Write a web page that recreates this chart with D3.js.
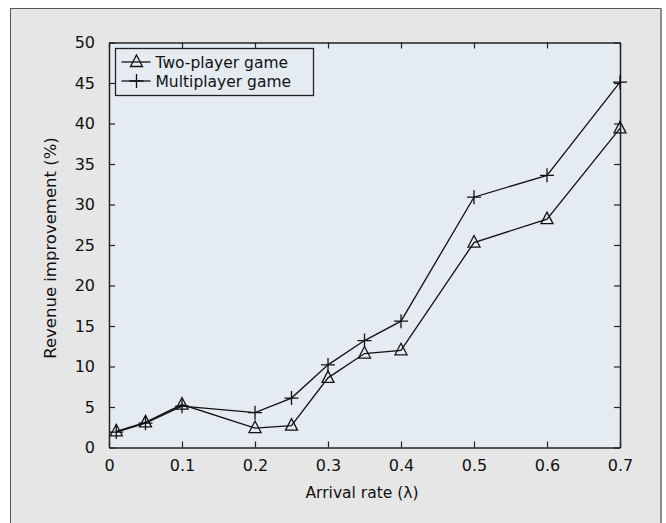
<!DOCTYPE html>
<html>
<head>
<meta charset="utf-8">
<script src="https://cdn.jsdelivr.net/npm/d3@7"></script>
<style>
  body { margin: 0; background: #fff; }
  svg { display: block; font-family: "DejaVu Sans", sans-serif; }
</style>
</head>
<body>
<svg id="drawing_region"></svg>
<script>
// data
const arrivalRates = [0.01, 0.05, 0.1, 0.2, 0.25, 0.3, 0.35, 0.4, 0.5, 0.6, 0.7];
const twoPlayer = [2.0, 3.1, 5.3, 2.4, 2.7, 8.6, 11.6, 12.0, 25.3, 28.2, 39.4];
const multiPlayer = [1.9, 3.0, 5.1, 4.3, 6.1, 10.2, 13.2, 15.6, 30.9, 33.6, 45.1];
const xTicks = [0, 0.1, 0.2, 0.3, 0.4, 0.5, 0.6, 0.7];
const yTicks = [0, 5, 10, 15, 20, 25, 30, 35, 40, 45, 50];
const seriesNames = ["Two-player game", "Multiplayer game"];

const config = {
    width: 666,
    height: 523,
    margin: {top: 42.5, right: 46, bottom: 75.5, left: 109}
};

const svg = d3.select('#drawing_region')
    .attr('width', config.width)
    .attr('height', config.height);

// outer panel
svg.append('rect')
    .attr('x', 10.5).attr('y', 8.5)
    .attr('width', 650).attr('height', 530)
    .attr('fill', '#e6e6e6')
    .attr('stroke', '#555')
    .attr('stroke-width', 1);
svg.append('line')
    .attr('x1', 661).attr('x2', 661)
    .attr('y1', 8).attr('y2', 523)
    .attr('stroke', '#8c8c8c').attr('stroke-width', 2);

const inner_width = config.width - config.margin.left - config.margin.right;
const inner_height = config.height - config.margin.top - config.margin.bottom;

const chart = svg.append('g')
    .attr('transform', `translate(${config.margin.left}, ${config.margin.top})`);

const xscale = d3.scaleLinear().domain([0, 0.7]).range([0, inner_width]);
const yscale = d3.scaleLinear().domain([0, 50]).range([inner_height, 0]);

chart.append('rect')
    .attr('width', inner_width).attr('height', inner_height)
    .attr('fill', '#e4ecf2');

// axes, ticks pointing inward
const fmt = d => d === 0 ? '0' : d3.format('.1f')(d);
const xaxis_group = chart.append('g')
    .attr('transform', `translate(0, ${inner_height})`)
    .call(d3.axisBottom(xscale).tickValues(xTicks).tickFormat(fmt).tickSize(-6).tickPadding(12).tickSizeOuter(0));
const xaxis_top = chart.append('g')
    .call(d3.axisTop(xscale).tickValues(xTicks).tickFormat('').tickSize(-6).tickSizeOuter(0));
const yaxis_group = chart.append('g')
    .call(d3.axisLeft(yscale).tickValues(yTicks).tickSize(-6).tickPadding(14).tickSizeOuter(0));
const yaxis_right = chart.append('g')
    .attr('transform', `translate(${inner_width}, 0)`)
    .call(d3.axisRight(yscale).tickValues(yTicks).tickFormat('').tickSize(-6).tickSizeOuter(0));

[xaxis_group, xaxis_top, yaxis_group, yaxis_right].forEach(g => {
    g.selectAll('path').attr('stroke', '#222').attr('stroke-width', 1.5);
    g.selectAll('line').attr('stroke', '#222').attr('stroke-width', 1.2);
    g.selectAll('text').attr('fill', '#111').style('font-size', '16px')
        .style('font-family', '"DejaVu Sans", sans-serif');
});

// lines
const line = d3.line().x(d => xscale(d.x)).y(d => yscale(d.y));
const series = [twoPlayer, multiPlayer].map(vals =>
    vals.map((v, i) => ({x: arrivalRates[i], y: v})));

series.forEach(pts => {
    chart.append('path')
        .datum(pts)
        .attr('fill', 'none')
        .attr('stroke', '#111')
        .attr('stroke-width', 1.3)
        .attr('d', line);
});

const triPath = 'M0,-7L6,4.5L-6,4.5Z';
const plusPath = 'M-7,0H7M0,-7V7';

function drawMarker(g, kind) {
    g.append('path').attr('d', kind === 0 ? triPath : plusPath)
        .attr('fill', 'none').attr('stroke', '#111').attr('stroke-width', 1.3);
}

series.forEach((pts, k) => {
    chart.selectAll(null).data(pts).join('g')
        .attr('transform', d => `translate(${xscale(d.x)}, ${yscale(d.y)})`)
        .each(function() { drawMarker(d3.select(this), k); });
});

// legend
const legend = svg.append('g').attr('transform', 'translate(115.5, 48.5)');
legend.append('rect')
    .attr('width', 198).attr('height', 47)
    .attr('fill', '#e4ecf2').attr('stroke', '#222').attr('stroke-width', 1.3);
seriesNames.forEach((name, i) => {
    const row = legend.append('g').attr('transform', `translate(0, ${13.5 + i * 19})`);
    row.append('line').attr('x1', 6).attr('x2', 35)
        .attr('stroke', '#111').attr('stroke-width', 1.3);
    const m = row.append('g').attr('transform', 'translate(21, 0)');
    drawMarker(m, i);
    row.append('text').attr('x', 40).attr('y', 0).attr('dy', '0.36em')
        .style('font-size', '15.5px').attr('fill', '#111').text(name);
});

// axis titles
svg.append('text')
    .attr('x', 362).attr('y', 498)
    .attr('text-anchor', 'middle')
    .style('font-size', '15.5px').attr('fill', '#111')
    .text('Arrival rate (λ)');

svg.append('text')
    .attr('transform', 'translate(56, 248) rotate(-90)')
    .attr('text-anchor', 'middle')
    .style('font-size', '16.5px').attr('fill', '#111')
    .text('Revenue improvement (%)');
</script>
</body>
</html>
